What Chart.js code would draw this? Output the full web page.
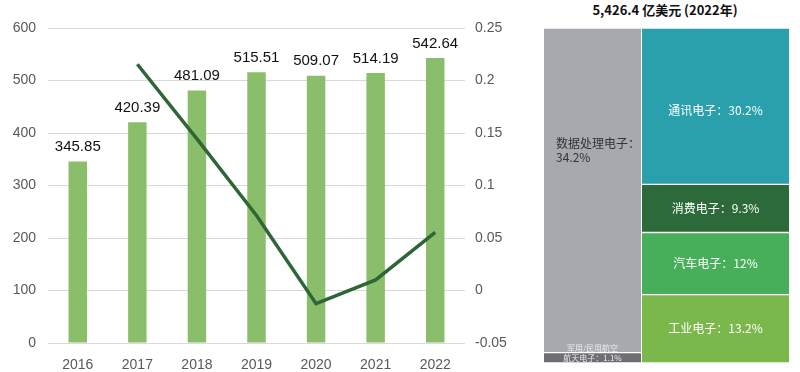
<!DOCTYPE html>
<html><head><meta charset="utf-8">
<script src="https://cdn.jsdelivr.net/npm/chart.js@4"></script>
<style>
html,body{margin:0;padding:0;background:#fff;width:800px;height:372px;overflow:hidden;}
#c1wrap{position:absolute;left:0;top:0;width:530px;height:372px;}
#lwrap{position:absolute;left:544px;top:28px;width:97px;height:335px;}
#rwrap{position:absolute;left:642px;top:28px;width:147px;height:335px;}
#title{position:absolute;left:540px;top:0;width:250px;text-align:center;font:bold 13px "Noto Sans CJK SC","Liberation Sans",sans-serif;color:#111;line-height:20px;}
</style></head><body>
<div id="c1wrap"><canvas id="c1"></canvas></div>
<div id="title">5,426.4 亿美元 (2022年)</div>
<div id="lwrap"><canvas id="cl"></canvas></div>
<div id="rwrap"><canvas id="cr"></canvas></div>
<script>
// ---- data ----
const years = ['2016','2017','2018','2019','2020','2021','2022'];
const marketSize = [345.85, 420.39, 481.09, 515.51, 509.07, 514.19, 542.64];
const growthRate = [null, 0.2155, 0.1444, 0.0715, -0.0125, 0.0101, 0.0553];
const leftTicks = [0, 100, 200, 300, 400, 500, 600];
const rightTicks = [-0.05, 0, 0.05, 0.1, 0.15, 0.2, 0.25];
const treemapTitle = '5,426.4 亿美元 (2022年)';
const leftColNames = ['军用/民用航空\n航天电子：', '数据处理电子：'];
const leftColShares = [1.1, 34.2];
const rightColNames = ['工业电子：', '汽车电子：', '消费电子：', '通讯电子：'];
const rightColShares = [13.2, 12, 9.3, 30.2];

document.getElementById('title').textContent = treemapTitle;

const FONT = '"Liberation Sans", Arial, sans-serif';
const CJK = '"Noto Sans CJK SC", sans-serif';

// ---- main bar + line chart ----
const barLabels = {
  id: 'barLabels',
  afterDatasetsDraw(chart) {
    const ctx = chart.ctx;
    const meta = chart.getDatasetMeta(1);
    ctx.save();
    ctx.font = '15px ' + FONT;
    ctx.fillStyle = '#111';
    ctx.textAlign = 'center';
    ctx.textBaseline = 'bottom';
    meta.data.forEach((el, i) => {
      ctx.fillText(marketSize[i].toFixed(2), el.x, el.y - 7);
    });
    ctx.restore();
  }
};

new Chart(document.getElementById('c1'), {
  data: {
    labels: years,
    datasets: [
      { type: 'line', data: growthRate, yAxisID: 'y1', borderColor: '#2E6637', borderWidth: 3.5,
        pointRadius: 0, tension: 0, fill: false, order: 0 },
      { type: 'bar', data: marketSize, yAxisID: 'y', backgroundColor: '#8BBE6A',
        barPercentage: 0.62, categoryPercentage: 0.5, order: 1 }
    ]
  },
  options: {
    responsive: true, maintainAspectRatio: false, animation: false,
    layout: { padding: { top: 28, bottom: 0, left: 0, right: 0 } },
    plugins: { legend: { display: false }, tooltip: { enabled: false } },
    scales: {
      x: {
        grid: { display: false }, border: { display: false },
        ticks: { color: '#595959', font: { size: 14, family: FONT }, padding: 6 },
        afterFit(s) { s.height = 29; }
      },
      y: {
        position: 'left', min: 0, max: 600,
        afterBuildTicks(s) { s.ticks = leftTicks.map(v => ({ value: v })); },
        grid: { color: '#D9D9D9', drawTicks: false, lineWidth: 1 }, border: { display: false },
        ticks: { color: '#595959', font: { size: 14, family: FONT }, padding: 12 },
        afterFit(s) { s.width = 48; }
      },
      y1: {
        position: 'right', min: -0.05, max: 0.25,
        afterBuildTicks(s) { s.ticks = rightTicks.map(v => ({ value: v })); },
        grid: { display: false, drawTicks: false }, border: { display: false },
        ticks: { color: '#595959', font: { size: 14, family: FONT }, padding: 10,
          callback: v => String(Number(v.toFixed(2))) },
        afterFit(s) { s.width = 65; }
      }
    }
  },
  plugins: [barLabels]
});

// ---- treemap-like columns ----
function blockLabels(names, shares, styles) {
  return {
    id: 'blockLabels',
    afterDatasetsDraw(chart) {
      const ctx = chart.ctx;
      ctx.save();
      chart.data.datasets.forEach((ds, i) => {
        const el = chart.getDatasetMeta(i).data[0];
        const st = styles[i];
        const cy = (el.y + el.base) / 2;
        ctx.fillStyle = st.color;
        ctx.font = st.size + 'px ' + CJK;
        ctx.textBaseline = 'middle';
        let lines;
        const pct = shares[i] + '%';
        if (st.split) lines = [names[i], pct];
        else {
          const parts = names[i].split('\n');
          parts[parts.length - 1] += pct;
          lines = parts;
        }
        const lh = st.size + 2;
        const x0 = chart.chartArea.left, x1 = chart.chartArea.right;
        ctx.textAlign = st.align;
        const x = st.align === 'left' ? x0 + 12 : (x0 + x1) / 2;
        lines.forEach((ln, k) => {
          ctx.fillText(ln, x, cy + st.dy + (k - (lines.length - 1) / 2) * lh);
        });
      });
      ctx.restore();
    }
  };
}

function column(canvasId, names, shares, colors, styles) {
  const total = shares.reduce((a, b) => a + b, 0);
  new Chart(document.getElementById(canvasId), {
    type: 'bar',
    data: {
      labels: [''],
      datasets: shares.map((v, i) => ({
        data: [v], backgroundColor: colors[i], borderColor: '#ffffff',
        borderWidth: { top: 1, bottom: 1, left: 0, right: 0 }, borderSkipped: false,
        barPercentage: 1, categoryPercentage: 1
      }))
    },
    options: {
      responsive: true, maintainAspectRatio: false, animation: false,
      layout: { padding: 0 },
      plugins: { legend: { display: false }, tooltip: { enabled: false } },
      scales: {
        x: { stacked: true, display: false },
        y: { stacked: true, display: false, min: 0, max: total }
      }
    },
    plugins: [blockLabels(names, shares, styles)]
  });
}

column('cl', leftColNames, leftColShares, ['#6D6F73', '#A7A9AE'], [
  { color: '#ececec', size: 8, align: 'center', dy: -5 },
  { color: '#333333', size: 12, align: 'left', split: true, dy: -40 }
]);
column('cr', rightColNames, rightColShares, ['#7BB84B', '#47AF5A', '#2D6A3A', '#29A0AC'], [
  { color: '#ffffff', size: 12, align: 'center', dy: 0 },
  { color: '#ffffff', size: 12, align: 'center', dy: 0 },
  { color: '#ffffff', size: 12, align: 'center', dy: 0 },
  { color: '#ffffff', size: 12, align: 'center', dy: 4 }
]);
</script>
</body></html>
